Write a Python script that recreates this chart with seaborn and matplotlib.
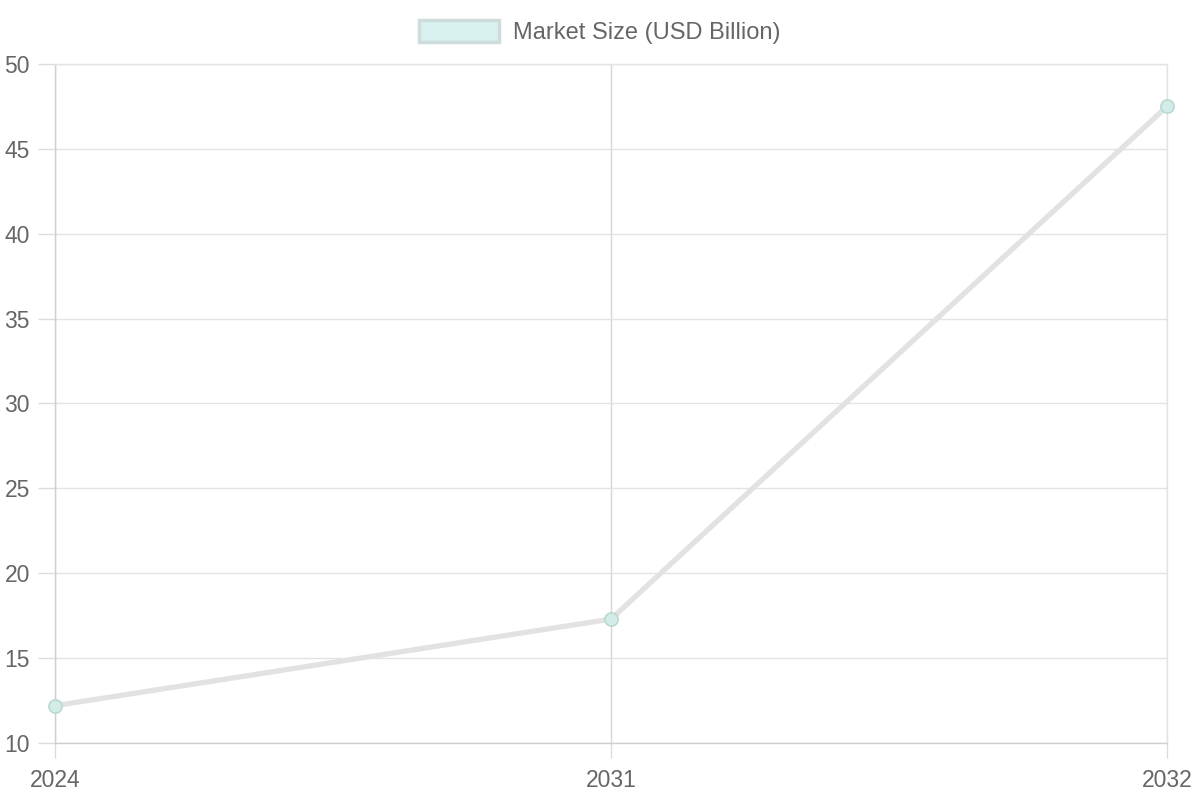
import matplotlib
matplotlib.use("Agg")
import matplotlib.pyplot as plt
import seaborn as sns
import pandas as pd
from matplotlib.patches import Patch

years = ["2024", "2031", "2032"]
market_size = [12.2, 17.3, 47.5]
series_label = "Market Size (USD Billion)"
y_ticks = [10, 15, 20, 25, 30, 35, 40, 45, 50]

sns.set_style("white")
plt.rcParams['font.family'] = ['Liberation Sans', 'DejaVu Sans']

df = pd.DataFrame({"year": years, "value": market_size})

fig = plt.figure(figsize=(12, 8), dpi=100)
ax = fig.add_axes([55/1200, 57/800, (1167-55)/1200, (743-64)/800])

sns.lineplot(data=df, x="year", y="value", ax=ax, sort=False,
             color="#e2e2e2", linewidth=3.8, marker="o", markersize=9.5,
             markerfacecolor="#d3ece8", markeredgecolor="#b9d9d2",
             markeredgewidth=1.2, zorder=3, clip_on=False)

ax.set_xlim(0, 2)
ax.set_ylim(10, 50)
ax.set_yticks(y_ticks)
ax.set_xlabel("")
ax.set_ylabel("")

grid_c = "#e3e3e3"
ax.grid(True, color=grid_c, linewidth=1.0, zorder=0)
ax.xaxis.grid(True, color="#d6d6d6")
for s in ["top", "right"]:
    ax.spines[s].set_color(grid_c)
    ax.spines[s].set_linewidth(1.0)
for s in ["left", "bottom"]:
    ax.spines[s].set_color("#cfcfcf")
    ax.spines[s].set_linewidth(1.0)

ax.tick_params(axis="both", which="major", labelsize=16.5, labelcolor="#666666",
               color="#dcdcdc", width=1.0, direction="out",
               bottom=True, left=True)
ax.tick_params(axis="y", length=12, pad=6)
ax.tick_params(axis="x", length=11, pad=8)

handle = Patch(facecolor="#d9f2f0", edgecolor="#cfdcdc", linewidth=2.5, label=series_label)
fig.legend(handles=[handle], loc="center", bbox_to_anchor=(0.5, 1 - 32/800),
           frameon=False, fontsize=17, labelcolor="#666666",
           handlelength=3.4, handleheight=1.1, handletextpad=0.6)

fig.savefig("out.png", dpi=100)
